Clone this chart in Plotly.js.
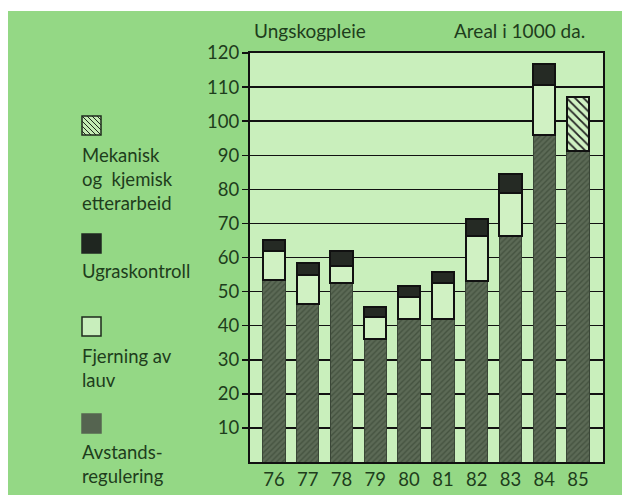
<!DOCTYPE html>
<html><head><meta charset="utf-8">
<script src="https://cdn.plot.ly/plotly-3.0.1.min.js"></script>
<style>html,body{margin:0;padding:0;background:#fff}</style>
</head><body>
<div id="chart" style="width:622px;height:495px"></div>
<script>
const years = ["76","77","78","79","80","81","82","83","84","85"];
const avstand = [53.5, 46.5, 52.5, 36, 42, 42, 53, 66.3, 96, 91.3];
const fjerning = [8.5, 8.5, 5, 6.5, 6.3, 10.5, 13.2, 12.6, 14.7, 0];
const ugras = [3, 3.5, 4.5, 3, 3.3, 3.3, 5.1, 5.6, 6.1, 0];
const mekanisk = [0, 0, 0, 0, 0, 0, 0, 0, 0, 15.7];
const yTicks = [10,20,30,40,50,60,70,80,90,100,110,120];

const xs = years.map((_, i) => i);
const txt = '#1e3d1c';
const FONT = 'Lato, "Open Sans", sans-serif';
const W = 0.66;

const traces = [
  {type:'bar', x:xs, y:avstand, width:W, name:'Avstandsregulering',
   marker:{color:'#56654f', line:{color:'#3a4637', width:1},
     pattern:{shape:'/', fgcolor:'#455340', bgcolor:'#5c6a56', size:4, solidity:0.35}}},
  {type:'bar', x:xs, y:fjerning, width:W, name:'Fjerning av lauv',
   marker:{color:'#d0f1c3', line:{color:'#111', width:2}}},
  {type:'bar', x:xs, y:ugras, width:W, name:'Ugraskontroll',
   marker:{color:'#252a24', line:{color:'#111', width:2}}},
  {type:'bar', x:xs, y:mekanisk, width:W, name:'Mekanisk og kjemisk etterarbeid',
   marker:{color:'#d0f1c3', line:{color:'#111', width:2},
     pattern:{shape:'\\', fgcolor:'#222', bgcolor:'#d0f1c3', size:6, solidity:0.3}}}
];

const L=250, R=603, T=53, B=462;
const px = v => (v - L)/(R - L);
const py = v => (B - v)/(B - T);

const shapes = [
  {type:'rect', xref:'paper', yref:'paper', x0:px(-5), x1:px(8), y0:py(500), y1:py(-5), fillcolor:'#ffffff', line:{width:0}, layer:'below'},
  {type:'rect', xref:'paper', yref:'paper', x0:px(-5), x1:px(630), y0:py(11), y1:py(-5), fillcolor:'#ffffff', line:{width:0}, layer:'below'},
];
function sq(x0,y0,fill,lc){
  shapes.push({type:'rect', xref:'paper', yref:'paper', x0:px(x0), x1:px(x0+19), y0:py(y0+19), y1:py(y0), fillcolor:fill, line:{color:lc, width:1.5}});
}
sq(82,116,'#c4eab4','#1e2a1c');
for (let k=-3;k<=3;k++){
  const o = k*5;
  let xa=82+Math.max(0,o), ya=116+Math.max(0,-o);
  let len = 19-Math.abs(o);
  if (len<=1) continue;
  shapes.push({type:'line', xref:'paper', yref:'paper', x0:px(xa), y0:py(ya), x1:px(xa+len), y1:py(ya+len), line:{color:'#1e2a1c', width:1}});
}
sq(82,234,'#1f2620','#1f2620');
sq(82,317,'#c8eebc','#1e2a1c');
sq(82,414,'#556450','#556450');

const annotations = [
  {text:'Ungskogpleie', x:px(252), y:py(30), xanchor:'left', yanchor:'middle', size:19},
  {text:'Areal i 1000 da.', x:px(587), y:py(30), xanchor:'right', yanchor:'middle', size:19},
  {text:'Mekanisk<br>og  kjemisk<br>etterarbeid', x:px(80), y:py(142), xanchor:'left', yanchor:'top', align:'left'},
  {text:'Ugraskontroll', x:px(80), y:py(258), xanchor:'left', yanchor:'top', align:'left'},
  {text:'Fjerning av<br>lauv', x:px(80), y:py(343), xanchor:'left', yanchor:'top', align:'left'},
  {text:'Avstands-<br>regulering', x:px(80), y:py(439), xanchor:'left', yanchor:'top', align:'left'},
].map(a => {
  const s = a.size || 18.5; delete a.size;
  return Object.assign({xref:'paper', yref:'paper', showarrow:false, font:{family:FONT, size:s, color:txt}}, a);
});

const layout = {
  width:622, height:495,
  margin:{l:L, r:622-R, t:T, b:495-B, pad:0},
  paper_bgcolor:'#94d885', plot_bgcolor:'#c9efbc',
  barmode:'stack', showlegend:false,
  font:{family:FONT, color:txt, size:18},
  xaxis:{range:[-0.71, 9.74], tickvals:xs, ticktext:years, showgrid:false, zeroline:false,
    showline:true, mirror:true, linecolor:'#111', linewidth:2, ticks:'', ticklen:0,
    tickfont:{family:FONT, size:18.5, color:txt}, fixedrange:true},
  yaxis:{range:[0,120], tickvals:yTicks, ticktext:yTicks.map(String), showgrid:true, gridcolor:'#111', gridwidth:1.5,
    zeroline:false, showline:true, mirror:true, linecolor:'#111', linewidth:2,
    ticks:'outside', ticklen:6, tickcolor:'#111', tickwidth:1.5, ticklabelstandoff:-1,
    tickfont:{family:FONT, size:18.5, color:txt}, fixedrange:true},
  shapes, annotations
};
Plotly.newPlot('chart', traces, layout, {displayModeBar:false, staticPlot:true});
</script>
</body></html>
